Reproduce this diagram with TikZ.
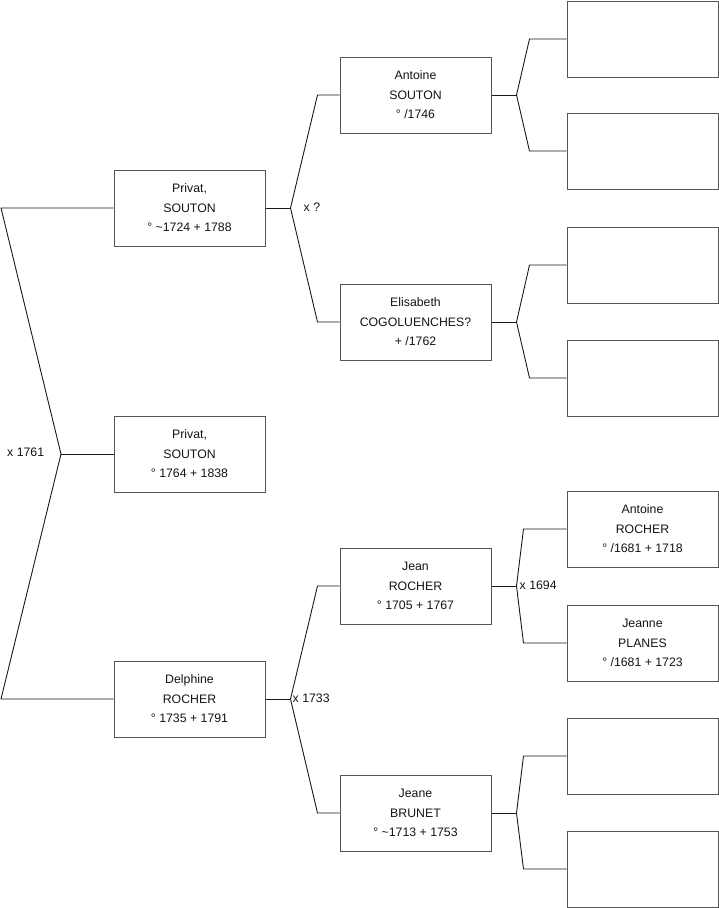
\documentclass[tikz,border=0pt]{standalone}
\usepackage{fontspec}
\setmainfont{Liberation Sans}
\usepackage{tikz}
\usetikzlibrary{calc}
\definecolor{frame}{RGB}{85,85,85}
\definecolor{wire}{RGB}{25,25,25}
\definecolor{ink}{RGB}{20,20,20}
\tikzset{
  person/.style={draw=frame,fill=white,line width=1pt,minimum width=151pt,minimum height=76pt,
    inner sep=0pt,align=center,text=ink,font=\fontsize{12.3}{19.5}\selectfont},
  wed/.style={font=\fontsize{12.3}{14}\selectfont,text=ink,inner sep=0pt},
  link/.style={draw=wire,line width=0.9pt,line join=round},
}
\begin{document}
\begin{tikzpicture}[x=1pt,y=-1pt]
  \useasboundingbox[fill=white] (0,0) rectangle (719,908);
  % generation 1 and 2
  \node[person] (p0) at (189.5,454) {Privat,\\SOUTON\\° 1764 + 1838};
  \node[person] (p1) at (189.5,208) {Privat,\\SOUTON\\° \textasciitilde1724 + 1788};
  \node[person] (m1) at (189.5,699) {Delphine\\ROCHER\\° 1735 + 1791};
  % generation 3
  \node[person] (p11) at (415.5,95) {Antoine\\SOUTON\\° /1746};
  \node[person] (m11) at (415.5,322) {Elisabeth\\COGOLUENCHES?\\+ /1762};
  \node[person] (p12) at (415.5,586) {Jean\\ROCHER\\° 1705 + 1767};
  \node[person] (m12) at (415.5,813) {Jeane\\BRUNET\\° \textasciitilde1713 + 1753};
  % generation 4
  \node[person] (a1) at (642.5,39) {};
  \node[person] (a2) at (642.5,151) {};
  \node[person] (a3) at (642.5,265) {};
  \node[person] (a4) at (642.5,378) {};
  \node[person] (a5) at (642.5,529) {Antoine\\ROCHER\\° /1681 + 1718};
  \node[person] (a6) at (642.5,643) {Jeanne\\PLANES\\° /1681 + 1723};
  \node[person] (a7) at (642.5,756) {};
  \node[person] (a8) at (642.5,869) {};

  % forks
  \coordinate (k0) at (61,454);
  \draw[link] (p1.west) -- (1,208) -- (k0) -- (1,699) -- (m1.west);
  \draw[link] (k0) -- (p0.west);
  \node[wed,anchor=west] (w0) at (7,452) {x 1761};

  \foreach \dad/\mom/\kid/\lbl/\ddx/\lx in {p11/m11/p1/x ?/22/13,p12/m12/m1/x 1733/22/2,
      a1/a2/p11/{}/37/3,a3/a4/m11/{}/37/3,a5/a6/p12/x 1694/43/3,a7/a8/m12/{}/43/3}{
    \coordinate (j\kid) at ($(\kid.east)+(25,0)$);
    \draw[link] (\kid.east) -- (j\kid);
    \draw[link] (\dad.west) -- ++(-\ddx,0) -- (j\kid) -- ($(\mom.west)+(-\ddx,0)$) -- (\mom.west);
    \node[wed,anchor=west] (w\kid) at ($(j\kid)+(\lx,-1)$) {\lbl};
  }
\end{tikzpicture}
\end{document}
